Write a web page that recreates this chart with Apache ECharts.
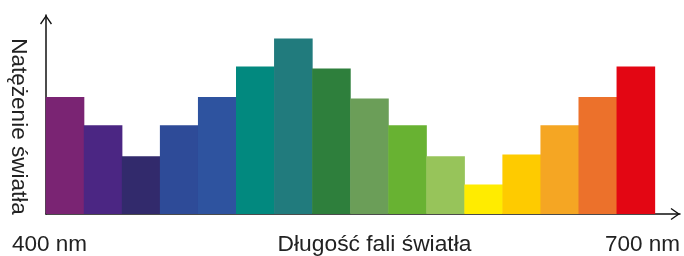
<!DOCTYPE html>
<html>
<head>
<meta charset="utf-8">
<script src="https://cdn.jsdelivr.net/npm/echarts@6/dist/echarts.min.js"></script>
<style>
  html, body { margin: 0; padding: 0; background: #fff; }
  #chart { width: 684px; height: 256px; }
</style>
</head>
<body>
<div id="chart"></div>
<script>
// intensity per wavelength band, 400 nm -> 700 nm (arbitrary units)
const bands = ['b1', 'b2', 'b3', 'b4', 'b5', 'b6', 'b7', 'b8', 'b9', 'b10', 'b11', 'b12', 'b13', 'b14', 'b15', 'b16']
const intensity = [4, 3.03, 1.97, 3.03, 4, 5.04, 6, 4.97, 3.95, 3.03, 1.97, 1.01, 2.03, 3.03, 4, 5.04]
const bandColors = [
  '#7a2473', '#4b2683', '#322a6c', '#2e4b98', '#2e539f', '#02897f', '#217b7d', '#2e7f3c',
  '#6b9e58', '#68b232', '#97c45a', '#ffec00', '#fecb00', '#f5a623', '#ec712b', '#e30613'
]
const axisLabels = ['400 nm', '700 nm']
const xAxisName = 'Długość fali światła'
const yAxisName = 'Natężenie światła'

const chart = echarts.init(document.getElementById('chart'))

// thin open chevron, pointing up (rotated by echarts along the axis)
const chevron = 'path://M6,0 L12,8.6 L10.9,9.4 L6,2.3 L1.1,9.4 L0,8.6 Z'
const font = '"Liberation Sans", Arial, Helvetica, sans-serif'

const axisLine = {
  show: true,
  symbol: ['none', chevron],
  symbolSize: [12, 9.4],
  symbolOffset: [0, -4.7],
  lineStyle: { color: '#111', width: 1.5 }
}

chart.setOption({
  animation: false,
  grid: { left: 46, right: 4, top: 15, bottom: 42 },
  xAxis: {
    type: 'value',
    min: 0,
    max: 16.66,
    axisLine: axisLine,
    axisTick: { show: false },
    axisLabel: { show: false },
    splitLine: { show: false }
  },
  yAxis: {
    type: 'value',
    min: 0,
    max: 6.8,
    axisLine: axisLine,
    axisTick: { show: false },
    axisLabel: { show: false },
    splitLine: { show: false }
  },
  series: [{
    type: 'bar',
    barWidth: 38.6,
    z: 1,
    data: intensity.map((v, i) => ({
      name: bands[i],
      value: [i + 0.5, v],
      itemStyle: { color: bandColors[i] }
    }))
  }],
  graphic: [
    {
      type: 'text', x: 12, y: 245,
      style: { text: axisLabels[0], font: '22.5px ' + font, fill: '#222', align: 'left', verticalAlign: 'middle' }
    },
    {
      type: 'text', x: 680, y: 245,
      style: { text: axisLabels[1], font: '22.5px ' + font, fill: '#222', align: 'right', verticalAlign: 'middle' }
    },
    {
      type: 'text', x: 374.5, y: 245,
      style: { text: xAxisName, font: '22.8px ' + font, fill: '#222', align: 'center', verticalAlign: 'middle' }
    },
    {
      type: 'text', x: 18.5, y: 126.5, rotation: -Math.PI / 2,
      style: { text: yAxisName, font: '22.5px ' + font, fill: '#222', align: 'center', verticalAlign: 'middle' }
    }
  ]
})
</script>
</body>
</html>
